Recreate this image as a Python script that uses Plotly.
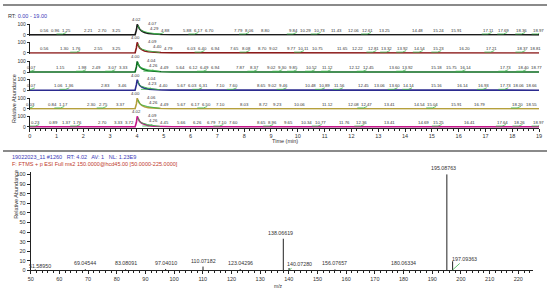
import plotly.graph_objects as go

W, H = 550, 293

# ---- chromatograms (top to bottom) ----
trace_colors = ['#1a1a1a', '#8b1a1a', '#0b6b1f', '#2b2b8f', '#b5a03c', '#c4168a']
peak_label_color = '#3cb44b'

chrom_rt = [0.0, 3.93, 3.98, 4.01, 4.05, 4.10, 4.18, 4.28, 4.42, 4.62, 4.90, 5.30, 19.0]
chrom_p1 = [0, 0, 45, 100, 80, 55, 36, 23, 13, 7, 3, 1, 0]
chrom_p2 = [0, 0, 50, 100, 72, 48, 31, 19, 11, 6, 3, 1, 0]
chrom_p3 = [0, 0, 48, 100, 75, 50, 33, 21, 12, 6, 3, 1, 0]
chrom_p4 = [0, 0, 52, 100, 70, 46, 30, 18, 10, 5, 2, 1, 0]
chrom_p5 = [0, 0, 46, 100, 74, 50, 32, 20, 11, 6, 3, 1, 0]
chrom_p6 = [0, 0, 44, 100, 78, 52, 34, 22, 12, 6, 3, 1, 0]
chroms = [chrom_p1, chrom_p2, chrom_p3, chrom_p4, chrom_p5, chrom_p6]

# detected-peak overlay on the main peak tail
tail_rt = [4.04, 4.09, 4.16, 4.26, 4.40, 4.60, 4.85]
tail_p1 = [88, 58, 40, 30, 22, 14, 6]
tail_p2 = [85, 55, 38, 28, 20, 13, 5]
tail_p3 = [86, 56, 40, 30, 22, 14, 6]
tail_p4 = [82, 52, 36, 27, 20, 12, 5]
tail_p5 = [84, 55, 38, 28, 21, 13, 5]
tail_p6 = [86, 56, 40, 30, 22, 14, 6]
tails = [tail_p1, tail_p2, tail_p3, tail_p4, tail_p5, tail_p6]

labels_p1 = [0.56, 0.96, 1.25, 2.21, 2.70, 3.25, 4.02, 4.07, 4.29, 4.88, 5.88, 6.17, 6.70, 7.79, 8.06,
             8.80, 9.84, 10.29, 10.73, 11.43, 12.06, 12.61, 13.25, 14.48, 15.24, 15.91, 17.11, 17.69,
             18.36, 18.97]
labels_p2 = [0.56, 1.30, 1.76, 2.55, 3.25, 4.00, 4.09, 4.40, 4.79, 6.03, 6.40, 6.94, 7.65, 8.08, 8.70,
             9.02, 9.77, 10.11, 10.75, 11.65, 12.22, 12.81, 13.32, 13.92, 14.54, 15.23, 16.20, 17.21,
             18.37, 18.81]
labels_p3 = [0.07, 1.15, 1.98, 2.49, 3.07, 3.33, 4.00, 4.04, 4.26, 4.49, 5.64, 6.12, 6.49, 6.94, 7.87,
             8.37, 9.02, 9.30, 9.85, 10.52, 11.12, 12.12, 12.45, 13.60, 13.92, 15.18, 15.75, 16.14,
             17.73, 18.40, 18.77]
labels_p4 = [0.07, 1.06, 1.36, 2.83, 3.46, 4.00, 4.04, 4.23, 4.40, 5.67, 6.03, 6.31, 7.10, 7.60, 8.65,
             9.02, 9.46, 10.48, 10.89, 11.56, 12.45, 13.06, 13.60, 14.14, 15.16, 16.14, 16.93, 17.73,
             18.06, 18.66]
labels_p5 = [0.03, 0.84, 1.17, 2.30, 2.75, 3.37, 4.00, 4.06, 4.26, 4.49, 5.67, 6.17, 6.50, 7.10, 8.03,
             8.72, 9.23, 10.06, 11.12, 12.08, 12.47, 13.41, 14.54, 15.04, 15.91, 16.79, 18.20, 18.55]
labels_p6 = [0.23, 0.89, 1.37, 1.76, 2.70, 3.33, 3.72, 4.02, 4.09, 4.26, 4.45, 5.66, 6.26, 6.79, 7.10,
             7.60, 8.65, 8.96, 9.65, 10.34, 10.77, 11.76, 12.36, 13.41, 14.69, 15.25, 16.41, 17.64,
             18.26, 18.97]
labels = [labels_p1, labels_p2, labels_p3, labels_p4, labels_p5, labels_p6]

marks_p1 = [1.25, 4.88, 6.17, 8.06, 9.84, 10.73, 12.61, 17.11, 17.69, 18.36, 18.97]
marks_p2 = [1.76, 6.40, 8.08, 10.11, 12.81, 13.32, 13.92, 14.54, 15.23, 17.21, 18.37]
marks_p3 = [0.07, 1.98, 3.07, 4.49, 6.49, 8.37, 9.30, 9.85, 10.52, 11.12, 12.45, 13.92, 16.14,
            17.73, 18.40]
marks_p4 = [0.07, 1.36, 4.40, 6.31, 7.60, 9.46, 10.89, 11.56, 13.60, 14.14, 16.93, 17.73]
marks_p5 = [0.03, 1.17, 2.75, 6.50, 12.47, 15.04, 18.20]
marks_p6 = [0.23, 1.76, 4.45, 7.10, 8.96, 10.77, 12.36, 15.25, 17.64, 18.26, 18.97]
marks = [marks_p1, marks_p2, marks_p3, marks_p4, marks_p5, marks_p6]

# ---- mass spectrum ----
ms_mz = [51.58950, 69.04544, 83.08091, 97.04010, 110.07182, 123.04296, 138.06619,
         140.07280, 156.07657, 180.06334, 195.08763, 197.09363]
ms_int = [1.0, 1.2, 1.2, 1.5, 4.0, 1.3, 33.0, 2.5, 1.0, 1.0, 100.0, 9.5]

FONT = 'Liberation Sans, Arial, sans-serif'
TXT = '#333333'
LBL = 4.3                       # peak label font size
PX_PER_MIN = (542 - 27) / 19.0
CHAR_MIN = LBL * 0.56 / PX_PER_MIN   # approx. width of one digit in minutes

fig = go.Figure()

# pixel rows (baseline, 100%) for each chromatogram panel
base_px = [32.5, 51.0, 70.5, 89.0, 108.0, 126.5]
panel_h = 10.8
annotations = []

for k in range(6):
    ya = 'y' if k == 0 else f'y{k + 1}'
    col = trace_colors[k]
    fig.add_trace(go.Scatter(x=chrom_rt, y=chroms[k], mode='lines', xaxis='x', yaxis=ya,
                             line=dict(color=col, width=1.6), hoverinfo='skip'))
    fig.add_trace(go.Scatter(x=tail_rt, y=tails[k], mode='lines', xaxis='x', yaxis=ya,
                             line=dict(color=peak_label_color, width=0.9), hoverinfo='skip'))
    mx, my = [], []
    for rt in marks[k]:
        mx += [rt - 0.25, rt - 0.02, rt + 0.12, None]
        my += [8, 8, 22, None]
    fig.add_trace(go.Scatter(x=mx, y=my, mode='lines', xaxis='x', yaxis=ya,
                             line=dict(color=peak_label_color, width=0.8), hoverinfo='skip'))

    # label placement: cluster around the main peak gets stacked,
    # the rest sit on one row and are nudged right to avoid overlap
    apex_i = next(i for i, v in enumerate(labels[k]) if v >= 3.95)
    prev_right = -1.0
    for i, v in enumerate(labels[k]):
        txt = f'{v:.2f}'
        half = (len(txt) - 0.5) * CHAR_MIN / 2
        xpos, ypos, ysh = v, 45, 0
        if i == apex_i:
            xpos, ypos, ysh = v - 0.05, 100, 4.5
        elif i == apex_i + 1:
            xpos, ypos, ysh = v + 0.5, 100, 1
        elif i == apex_i + 2:
            xpos, ypos = v + 0.35, 64
        else:
            xpos = max(v, prev_right + 0.1 + half)
            prev_right = xpos + half
        annotations.append(dict(x=xpos, y=ypos, xref='x', yref=ya, text=txt, yshift=ysh,
                                showarrow=False, font=dict(size=LBL, color=TXT, family=FONT)))
        if i == apex_i + 2:
            prev_right = xpos + half

layout = dict(
    width=W, height=H, margin=dict(l=0, r=0, t=0, b=0),
    paper_bgcolor='white', plot_bgcolor='white', showlegend=False,
    font=dict(family=FONT, size=5.5, color=TXT),
    xaxis=dict(domain=[27 / W, 542 / W], range=[0, 19], anchor='y6', dtick=1,
               ticks='outside', ticklen=3, tickwidth=0.8, tickcolor='#222',
               minor=dict(dtick=0.2, ticks='outside', ticklen=2, tickcolor='#222', showgrid=False),
               showline=True, linecolor='#222', linewidth=1, showgrid=False, zeroline=False,
               tickfont=dict(size=5.5, color=TXT)),
)

for k in range(6):
    scale = panel_h / 100.0
    bot_px = base_px[k] + 8 * scale
    top_px = base_px[k] - panel_h - 4 * scale
    key = 'yaxis' if k == 0 else f'yaxis{k + 1}'
    layout[key] = dict(domain=[1 - bot_px / H, 1 - top_px / H], range=[-8, 104], anchor='x',
                       tickvals=[0, 100], ticktext=['0', '100'], ticks='outside', ticklen=2,
                       tickwidth=0.8, tickcolor='#222', showline=True, linecolor='#222',
                       linewidth=0.8, showgrid=False, zeroline=False,
                       tickfont=dict(size=5, color=TXT))

# mass spectrum sticks
sx, sy = [], []
for m, v in zip(ms_mz, ms_int):
    sx += [m, m, None]
    sy += [0, v, None]
fig.add_trace(go.Scatter(x=sx, y=sy, mode='lines', xaxis='x2', yaxis='y7',
                         line=dict(color='#222222', width=1), hoverinfo='skip'))

ms_scale = 98 / 100.0
layout['xaxis2'] = dict(domain=[28 / W, 535.5 / W], range=[50, 225], anchor='y7', dtick=10,
                        ticks='outside', ticklen=3, tickwidth=0.8, tickcolor='#222',
                        minor=dict(dtick=2, ticks='outside', ticklen=2, tickcolor='#222', showgrid=False),
                        showline=True, linecolor='#222', linewidth=1, showgrid=False, zeroline=False,
                        tickfont=dict(size=5.5, color=TXT))
layout['yaxis7'] = dict(domain=[1 - 273 / H, 1 - (175 - 3 * ms_scale) / H], range=[0, 103],
                        anchor='x2', dtick=10, ticks='outside', ticklen=3, tickwidth=0.8,
                        tickcolor='#222', showline=True, linecolor='#222', linewidth=1,
                        showgrid=False, zeroline=False, tickfont=dict(size=5.5, color=TXT))

# labels pulled aside with a green leader line
leader = {51.58950: (5, -4), 140.07280: (10, -6), 197.09363: (12, -11)}
for m, v in zip(ms_mz, ms_int):
    txt = f'{m:.5f}'
    if m in leader:
        ax, ay = leader[m]
        annotations.append(dict(x=m, y=0.5, xref='x2', yref='y7', text=txt, showarrow=True,
                                ax=ax, ay=ay, arrowhead=0, arrowwidth=0.8, arrowcolor=peak_label_color,
                                standoff=0, font=dict(size=5.3, color=TXT, family=FONT)))
    else:
        annotations.append(dict(x=m, y=v, xref='x2', yref='y7', text=txt, showarrow=False,
                                yanchor='bottom', yshift=1, xshift=-3 if v > 20 else 0,
                                font=dict(size=5.3, color=TXT, family=FONT)))

# header texts and axis titles
annotations += [
    dict(x=3 / W, y=1 - 8 / H, xref='paper', yref='paper', xanchor='left', showarrow=False,
         text='RT: <span style="color:#3a3ab8">0.00 - 19.00</span>', font=dict(size=5.5, color=TXT)),
    dict(x=7 / W, y=1 - 157 / H, xref='paper', yref='paper', xanchor='left', showarrow=False,
         text='19022023_11 #1260   RT: 4.02   AV: 1   NL: 1.23E9',
         font=dict(size=5.5, color='#3a3ab8')),
    dict(x=7 / W, y=1 - 164.5 / H, xref='paper', yref='paper', xanchor='left', showarrow=False,
         text='F: FTMS + p ESI Full ms2 150.0000@hcd45.00 [50.0000-225.0000]',
         font=dict(size=5.5, color='#c0392b')),
    dict(x=6 / W, y=1 - 70 / H, xref='paper', yref='paper', textangle=-90, showarrow=False,
         text='Relative Abundance', font=dict(size=5.5, color=TXT)),
    dict(x=8 / W, y=1 - 222 / H, xref='paper', yref='paper', textangle=-90, showarrow=False,
         text='Relative Abundance', font=dict(size=5.5, color=TXT)),
    dict(x=285 / W, y=1 - 141 / H, xref='paper', yref='paper', showarrow=False,
         text='Time (min)', font=dict(size=5.5, color=TXT)),
    dict(x=279 / W, y=0, xref='paper', yref='paper', yanchor='bottom', showarrow=False,
         text='m/z', borderpad=0, font=dict(size=5, color=TXT)),
]
layout['annotations'] = annotations
layout['shapes'] = [
    dict(type='line', xref='paper', yref='paper', x0=0, x1=1, y0=1 - 2 / H, y1=1 - 2 / H,
         line=dict(color='#8a8a8a', width=2)),
    dict(type='line', xref='paper', yref='paper', x0=0, x1=1, y0=1 - 151 / H, y1=1 - 151 / H,
         line=dict(color='#8a8a8a', width=2)),
]

fig.update_layout(**layout)
# the page body has a default 8px margin; drop it so the figure sits at the window corner
fig.write_html('out.html', config={'displayModeBar': False},
               post_script="document.body.style.margin='0';")
